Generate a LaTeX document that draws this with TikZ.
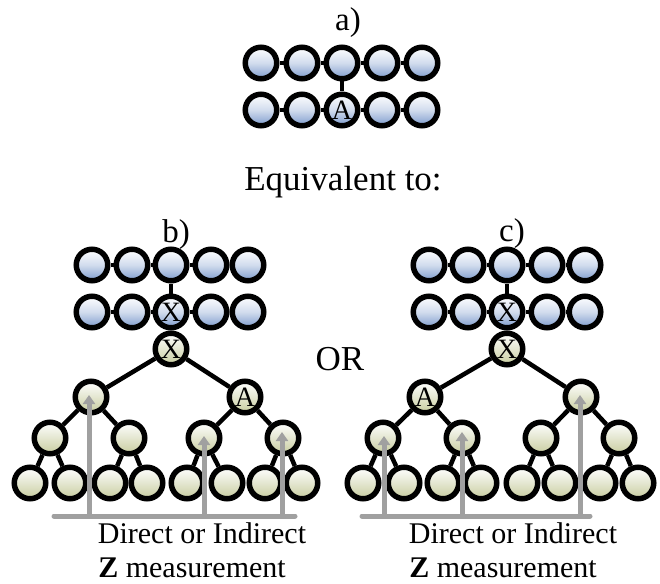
\documentclass[tikz,border=0pt]{standalone}
\usepackage{fontspec}
\setmainfont{Liberation Serif}
\usetikzlibrary{arrows.meta}
\definecolor{bluedark}{RGB}{125,155,205}
\definecolor{greendark}{RGB}{200,205,160}
\definecolor{barcol}{RGB}{160,160,160}
\tikzset{
  qb/.style={circle,draw=black,line width=5.5pt,minimum size=31.5pt,inner sep=0pt,font=\fontsize{28}{28}\selectfont},
  blueq/.style={qb,top color=white,bottom color=bluedark,middle color=bluedark!35!white},
  greenq/.style={qb,top color=white,bottom color=greendark,middle color=greendark!50!white},
  bond/.style={line width=4.5pt,black},
  bar/.style={line width=5pt,barcol,line cap=round},
  up/.style={line width=5pt,barcol,-{Triangle[width=12pt,length=9pt]}},
  lab/.style={inner sep=0pt,anchor=base},
}
\newcommand{\lattice}[8]{% prefix, five x, y1, y2, label on lower centre
  \foreach \n/\x in {1/#2,2/#3,3/#4,4/#5,5/#6}{
    \node[blueq] (#1u\n) at (\x,#7) {};
    \ifnum\n=3 \node[blueq] (#1d\n) at (\x,#8) {\LowerLabel};
    \else \node[blueq] (#1d\n) at (\x,#8) {};\fi
  }
  \foreach \a/\b in {1/2,2/3,3/4,4/5}{
    \draw[bond] (#1u\a) -- (#1u\b);
    \draw[bond] (#1d\a) -- (#1d\b);
  }
  \draw[bond] (#1u3) -- (#1d3);
}
\begin{document}
\begin{tikzpicture}[x=1pt,y=-1pt]
\useasboundingbox (0,0) rectangle (660,583);
% panel a
\def\LowerLabel{A}
\lattice{a}{261}{302}{342}{382}{422}{63}{110}
% panel b
\def\LowerLabel{X}
\lattice{b}{92}{132}{171}{211}{248}{265}{312}
\node[greenq] (bx) at (171,349) {X};
\node[greenq] (bl) at (91,397) {};
\node[greenq] (br) at (245,397) {A};
\foreach \n/\x in {1/50,2/129,3/204,4/283}{\node[greenq] (bm\n) at (\x,438) {};}
\foreach \n/\x in {1/30,2/70,3/110,4/147,5/187,6/227,7/265,8/302}{\node[greenq] (bf\n) at (\x,483) {};}
\draw[bond] (bd3) -- (bx);
\draw[bond] (bx) -- (bl);
\draw[bond] (bx) -- (br);
\draw[bond] (bl) -- (bm1);
\draw[bond] (bl) -- (bm2);
\draw[bond] (br) -- (bm3);
\draw[bond] (br) -- (bm4);
\foreach \m/\p/\q in {1/1/2,2/3/4,3/5/6,4/7/8}{
  \draw[bond] (bm\m) -- (bf\p);
  \draw[bond] (bm\m) -- (bf\q);
}
% panel c
\lattice{c}{429}{468}{507}{547}{585}{265}{312}
\node[greenq] (cx) at (507,349) {X};
\node[greenq] (cl) at (425,397) {A};
\node[greenq] (cr) at (581,397) {};
\foreach \n/\x in {1/383,2/462,3/541,4/619}{\node[greenq] (cm\n) at (\x,438) {};}
\foreach \n/\x in {1/363,2/404,3/443,4/481,5/522,6/560,7/600,8/638}{\node[greenq] (cf\n) at (\x,483) {};}
\draw[bond] (cd3) -- (cx);
\draw[bond] (cx) -- (cl);
\draw[bond] (cx) -- (cr);
\draw[bond] (cl) -- (cm1);
\draw[bond] (cl) -- (cm2);
\draw[bond] (cr) -- (cm3);
\draw[bond] (cr) -- (cm4);
\foreach \m/\p/\q in {1/1/2,2/3/4,3/5/6,4/7/8}{
  \draw[bond] (cm\m) -- (cf\p);
  \draw[bond] (cm\m) -- (cf\q);
}
% measurement bars
\coordinate (bbarL) at (54,516);
\coordinate (bbarR) at (295,516);
\draw[bar] (bbarL) -- (bbarR);
\coordinate (bb1) at (89,516);  \coordinate (bt1) at (89,395);
\coordinate (bb2) at (204,516); \coordinate (bt2) at (204,436);
\coordinate (bb3) at (282,516); \coordinate (bt3) at (282,432);
\foreach \i in {1,2,3}{\draw[up] (bb\i) -- (bt\i);}
\coordinate (cbarL) at (362,516);
\coordinate (cbarR) at (590,516);
\draw[bar] (cbarL) -- (cbarR);
\coordinate (cb1) at (384,516); \coordinate (ct1) at (384,436);
\coordinate (cb2) at (462,516); \coordinate (ct2) at (462,432);
\coordinate (cb3) at (580,516); \coordinate (ct3) at (580,395);
\foreach \i in {1,2,3}{\draw[up] (cb\i) -- (ct\i);}
% texts
\node[lab,font=\fontsize{33}{33}\selectfont] (ta) at (348,31) {a)};
\node[lab,font=\fontsize{35}{35}\selectfont] (teq) at (343,190) {Equivalent to:};
\node[lab,font=\fontsize{33}{33}\selectfont] (tb) at (176,242) {b)};
\node[lab,font=\fontsize{33}{33}\selectfont] (tc) at (512,241) {c)};
\node[lab,font=\fontsize{35}{35}\selectfont] (tor) at (340,370) {OR};
\node[lab,font=\fontsize{30}{30}\selectfont] (td1) at (202,543) {Direct or Indirect};
\node[lab,font=\fontsize{30}{30}\selectfont] (tz1) at (192,577) {\textbf{Z} measurement};
\node[lab,font=\fontsize{30}{30}\selectfont] (td2) at (513,543) {Direct or Indirect};
\node[lab,font=\fontsize{30}{30}\selectfont] (tz2) at (503,577) {\textbf{Z} measurement};
\end{tikzpicture}
\end{document}
